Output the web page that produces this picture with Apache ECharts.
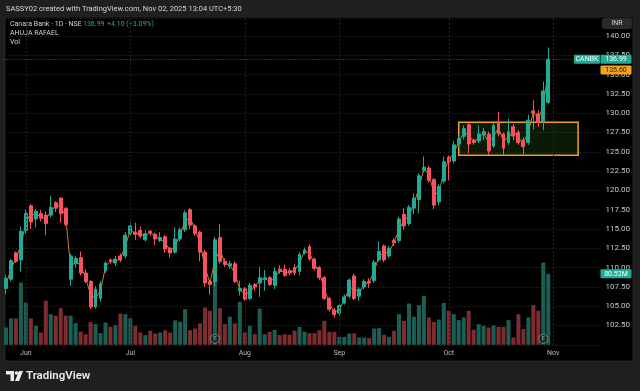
<!DOCTYPE html>
<html><head><meta charset="utf-8">
<script src="https://cdn.jsdelivr.net/npm/echarts@6/dist/echarts.min.js"></script>
<style>html,body{margin:0;padding:0;background:#1f1f1f}#c{width:640px;height:391px}</style>
</head><body><div id="c"></div><script>
const dates = [
'2025-05-27','2025-05-28','2025-05-29','2025-05-30',
'2025-06-02','2025-06-03','2025-06-04','2025-06-05','2025-06-06','2025-06-09','2025-06-10','2025-06-11','2025-06-12','2025-06-13','2025-06-16','2025-06-17','2025-06-18','2025-06-19','2025-06-20','2025-06-23','2025-06-24','2025-06-25','2025-06-26','2025-06-27','2025-06-30',
'2025-07-01','2025-07-02','2025-07-03','2025-07-04','2025-07-07','2025-07-08','2025-07-09','2025-07-10','2025-07-11','2025-07-14','2025-07-15','2025-07-16','2025-07-17','2025-07-18','2025-07-21','2025-07-22','2025-07-23','2025-07-24','2025-07-25','2025-07-28','2025-07-29','2025-07-30','2025-07-31',
'2025-08-01','2025-08-04','2025-08-05','2025-08-06','2025-08-07','2025-08-08','2025-08-11','2025-08-12','2025-08-13','2025-08-14','2025-08-18','2025-08-19','2025-08-20','2025-08-21','2025-08-22','2025-08-25','2025-08-26','2025-08-28','2025-08-29',
'2025-09-01','2025-09-02','2025-09-03','2025-09-04','2025-09-05','2025-09-08','2025-09-09','2025-09-10','2025-09-11','2025-09-12','2025-09-15','2025-09-16','2025-09-17','2025-09-18','2025-09-19','2025-09-22','2025-09-23','2025-09-24','2025-09-25','2025-09-26','2025-09-29','2025-09-30',
'2025-10-01','2025-10-03','2025-10-06','2025-10-07','2025-10-08','2025-10-09','2025-10-10','2025-10-13','2025-10-14','2025-10-15','2025-10-16','2025-10-17','2025-10-20','2025-10-21','2025-10-23','2025-10-24','2025-10-27','2025-10-28','2025-10-29','2025-10-30','2025-10-31',
'2025-11-03','2025-11-04','2025-11-06','2025-11-07','2025-11-10','2025-11-11','2025-11-12','2025-11-13','2025-11-14','2025-11-17'
];
const openP = [107.3,108.5,111.9,111.0,114.8,118.0,116.3,117.0,116.8,116.8,
118.4,119.0,117.7,108.5,110.5,111.3,109.3,108.2,104.9,106.0,
109.6,111.0,110.6,111.5,111.5,114.4,114.6,114.8,113.6,114.7,
114.3,113.5,114.0,112.5,112.0,113.7,114.9,117.5,115.4,114.6,
112.0,108.2,108.2,113.9,110.8,110.2,110.5,107.0,107.3,106.0,
107.8,108.0,108.5,108.7,107.7,109.8,109.8,109.6,110.0,109.5,
111.9,112.7,111.1,110.0,108.7,106.0,104.5,104.1,105.4,106.3,
108.9,106.3,107.5,108.2,108.3,111.0,112.8,111.5,113.5,113.5,
116.9,115.7,117.7,118.8,122.6,122.9,121.4,118.5,121.2,124.3,
123.8,126.0,127.0,128.5,126.5,126.4,127.2,127.3,125.75,128.9,
127.3,126.2,128.25,127.5,126.5,126.2,130.3,129.9,128.9,131.4];
const closeP = [108.6,110.9,110.8,114.7,117.0,115.9,117.3,116.4,115.7,117.8,
117.7,117.0,115.6,111.5,111.2,109.3,108.2,104.9,107.2,107.9,
110.6,110.8,111.1,111.0,114.2,115.4,114.3,114.1,114.4,114.5,
113.7,113.9,112.4,111.9,113.7,114.9,117.1,115.5,114.4,112.0,
108.0,107.8,113.6,110.8,110.4,110.5,108.2,107.3,105.9,107.7,
107.5,108.7,108.7,107.8,109.5,109.5,109.0,109.3,109.3,111.7,
112.3,111.1,109.9,108.7,106.0,104.6,103.9,105.1,106.2,108.4,
106.0,107.2,108.2,108.0,110.7,112.1,111.0,112.5,113.2,116.3,
115.4,117.8,119.0,121.9,123.0,121.3,118.1,120.5,123.7,123.7,
125.9,126.7,128.0,126.0,126.2,127.3,127.6,125.1,128.4,127.3,
125.45,127.6,127.05,126.2,125.65,129.1,130.0,128.8,132.89,136.99];
const lowP = [106.6,108.2,110.6,109.5,114.4,115.0,115.2,116.0,114.2,116.5,
117.2,115.8,115.4,107.6,110.0,109.0,108.0,104.6,104.7,105.6,
109.3,110.5,110.2,110.7,111.2,114.0,113.6,113.8,113.4,114.1,
112.9,113.3,111.9,111.3,111.8,113.4,114.6,115.0,114.1,110.8,
107.5,106.5,107.6,110.5,110.1,109.8,108.0,106.4,105.7,105.8,
107.0,106.2,107.0,107.6,107.2,109.2,108.8,109.0,109.0,109.0,
111.7,110.9,109.6,108.4,105.8,104.3,103.5,103.8,105.2,106.0,
105.8,105.7,107.2,107.4,108.0,110.8,110.7,111.2,112.8,113.2,
114.9,115.4,116.9,117.0,122.3,121.0,117.6,118.1,120.9,121.3,
123.5,125.7,126.6,124.8,125.9,126.1,126.5,124.6,125.5,127.0,
124.6,125.9,126.5,125.9,124.7,125.9,127.9,128.2,127.8,131.2];
const highP = [109.0,111.1,112.1,115.3,117.5,118.2,117.6,117.4,117.3,119.3,
118.6,119.1,117.8,111.8,111.5,112.1,109.8,108.4,107.6,108.3,
110.8,111.2,111.5,111.8,114.6,115.9,115.8,115.3,114.8,114.9,
114.5,114.6,114.2,112.7,115.2,115.2,117.4,117.7,115.6,114.8,
112.3,108.4,114.0,115.6,111.2,110.9,110.8,108.3,107.5,108.0,
108.0,110.1,109.7,108.9,110.0,110.3,110.4,109.9,110.5,112.0,
112.6,113.0,111.3,110.2,108.9,106.2,104.8,105.3,106.5,108.6,
109.2,107.5,108.5,108.6,111.0,113.4,113.0,112.8,113.8,116.6,
117.7,118.1,119.6,122.2,124.4,123.2,121.6,120.8,124.4,124.5,
126.4,127.0,128.4,128.7,126.7,128.4,128.1,127.6,128.7,130.2,
127.5,129.3,128.6,127.8,126.9,129.8,131.7,130.4,134.1,138.5];
const volumeM = [19.6,30,30,70.6,48,30,21.5,14,50,34.8,
33,41.6,33,33,24.6,15,12,25.7,23.4,13.2,
25.3,20.4,22.3,35.5,34.8,30.2,21.5,14,11,15.9,
12.8,14,16.6,14,27.6,26,40.5,16.6,18.5,24.2,
42.3,38.6,73.4,41.6,23.4,32,24.2,48.8,14,21.5,
12,41,12,14.7,17,11,12,11.3,15.9,20.4,
14.7,13.2,13.2,16.6,27.2,14.7,14.7,9,9,12.8,
12.9,8.3,8.3,7.6,18.5,18.9,11.3,9,15.9,34.8,
27.2,46.9,31.8,45,55.6,31,26,28.7,47.6,38.6,
34.8,28,31,38.6,17,23.4,21.5,19.6,22,20.4,
20.4,28,8.3,34.8,17.8,31,45,38.6,93.3,80.52];
const ahujaLine = [107.9,109.7,111.3,112.8,115.9,117.0,116.8,116.7,116.2,117.3,
118.0,118.0,116.6,110.0,110.8,110.3,108.7,106.5,106.0,107.0,
110.1,110.9,110.8,111.2,112.8,114.9,114.4,114.4,114.0,114.6,
114.0,113.7,113.2,112.2,112.8,114.3,116.0,116.5,114.9,113.3,
110.0,108.0,110.9,112.3,110.6,110.3,109.3,107.1,106.6,106.8,
107.6,108.3,108.6,108.2,108.6,109.6,109.4,109.4,109.6,110.6,
112.1,111.9,110.5,109.3,107.3,105.3,104.2,104.6,105.8,107.3,
107.4,106.7,107.8,108.1,109.5,111.5,111.9,112.0,113.3,114.9,
116.1,116.7,118.3,120.3,122.8,122.1,119.7,119.5,122.4,124.0,
124.8,126.3,127.5,127.2,126.3,126.8,127.4,126.2,127.0,128.1,
126.4,126.9,127.6,126.8,126.1,127.6,130.1,129.3,130.9,135.6];
const monthStarts = ['2025-06-02','2025-07-01','2025-08-01','2025-09-01','2025-10-01','2025-11-03'];
const monthLabels = ['Jun','Jul','Aug','Sep','Oct','Nov'];
const earningsDates = ['2025-07-24','2025-10-30'];
const boxFrom = '2025-10-06', boxTo = '2025-11-11';
const boxTop = 128.82, boxBottom = 124.55;
const lastPrice = 136.99, lineLast = 135.60, lastVol = 80.52;

const FONT = "Roboto, 'DejaVu Sans', sans-serif";
const UP = '#22ab94', DOWN = '#f7525f';
const chart = echarts.init(document.getElementById('c'), null, {renderer:'canvas'});

const candles = openP.map((o,i)=>[o, closeP[i], lowP[i], highP[i]]);
const volData = volumeM.map((v,i)=>({value:v, itemStyle:{color: closeP[i]>=openP[i] ? '#1c5e55' : '#7d2d30'}}));

const headerGraphics = [
  {id:'panel', type:'rect', z:-10, shape:{x:5,y:17,width:628,height:344}, style:{fill:'#000', stroke:'#262626', lineWidth:1}},
  {id:'title', type:'text', x:6, y:9, style:{text:'SASSY02 created with TradingView.com, Nov 02, 2025 13:04 UTC+5:30', fill:'#d6d6d6', font:'7.5px '+FONT, verticalAlign:'middle'}},
  {id:'l1', type:'text', x:10, y:24.5, style:{text:'Canara Bank · 1D · NSE', fill:'#d1d4dc', font:'7px '+FONT, verticalAlign:'middle'}},
  {id:'l1b', type:'text', x:83, y:24.5, style:{text:'136.99', fill:UP, font:'7px '+FONT, verticalAlign:'middle'}},
  {id:'l1c', type:'text', x:107, y:24.5, style:{text:'+4.10 (+3.09%)', fill:UP, font:'7px '+FONT, verticalAlign:'middle'}},
  {id:'l2', type:'text', x:10, y:33.5, style:{text:'AHUJA RAFAEL', fill:'#d1d4dc', font:'7px '+FONT, verticalAlign:'middle'}},
  {id:'l3', type:'text', x:10, y:42.5, style:{text:'Vol', fill:'#d1d4dc', font:'7px '+FONT, verticalAlign:'middle'}},
  {id:'inrbox', type:'rect', shape:{x:602,y:18,width:30,height:11,r:2}, style:{fill:'#2a2a2a'}},
  {id:'inr', type:'text', x:617, y:23.5, style:{text:'INR', fill:'#d1d4dc', font:'7px '+FONT, align:'center', verticalAlign:'middle'}},
  {id:'logo1', type:'rect', shape:{x:6,y:371,width:8,height:3.5}, style:{fill:'#ececec'}},
  {id:'logo2', type:'rect', shape:{x:10.5,y:371,width:3.5,height:10}, style:{fill:'#ececec'}},
  {id:'logo3', type:'circle', shape:{cx:16.5,cy:373,r:1.8}, style:{fill:'#ececec'}},
  {id:'logo4', type:'polygon', shape:{points:[[19,371],[23,371],[19,381],[15,381]]}, style:{fill:'#ececec'}},
  {id:'logotext', type:'text', x:26, y:376, style:{text:'TradingView', fill:'#ececec', font:'600 11.5px '+FONT, verticalAlign:'middle'}}
];

chart.setOption({
  animation:false,
  backgroundColor:'#1f1f1f',
  grid:[
    {left:3.5, top:18, width:597, height:326.8, outerBoundsMode:'none'},
    {left:3.5, top:244.8, width:597, height:100, outerBoundsMode:'none'}
  ],
  xAxis:[
    {type:'category', gridIndex:0, data:dates, boundaryGap:true,
     axisLine:{show:false}, axisTick:{show:false}, splitLine:{show:false},
     axisLabel:{interval:(i,v)=>monthStarts.indexOf(v)>=0, formatter:v=>monthLabels[monthStarts.indexOf(v)]||'',
       color:'#b8bbc2', fontSize:7, fontFamily:FONT, margin:5}},
    {type:'category', gridIndex:1, data:dates, boundaryGap:true, show:false}
  ],
  yAxis:[
    {type:'value', gridIndex:0, position:'right', min:100, max:142.33, interval:2.5, scale:true,
     axisLine:{show:false}, axisTick:{show:false},
     axisLabel:{formatter:v=>v.toFixed(2), color:'#c3c6cc', fontSize:8, fontFamily:FONT, margin:5, showMinLabel:false, showMaxLabel:false},
     splitLine:{lineStyle:{color:'#1f1f1f', type:[2,2], width:1}}},
    {type:'value', gridIndex:1, min:0, max:113.4, show:false}
  ],
  series:[
    {type:'bar', name:'Vol', xAxisIndex:1, yAxisIndex:1, data:volData, barWidth:4, z:1, silent:true},
    {type:'line', name:'AHUJA RAFAEL', xAxisIndex:0, yAxisIndex:0, data:ahujaLine, symbol:'none', z:2,
     lineStyle:{color:'#c9801a', width:1}, silent:true},
    {type:'candlestick', name:'CANBK', xAxisIndex:0, yAxisIndex:0, data:candles, barWidth:3.4, z:3,
     itemStyle:{color:UP, color0:DOWN, borderColor:UP, borderColor0:DOWN, borderWidth:1},
     markArea:{silent:true, z:1, itemStyle:{color:'rgba(60,140,40,0.18)', borderColor:'#f0a020', borderWidth:1.5},
       data:[[{xAxis:boxFrom, yAxis:boxTop},{xAxis:boxTo, yAxis:boxBottom}]]},
     markLine:{silent:true, symbol:'none', animation:false, label:{show:false},
       data:[
         ...monthStarts.map(d=>({xAxis:d, lineStyle:{color:'#262626', type:[2,2], width:1}})),
         {yAxis:lastPrice, lineStyle:{color:UP, type:[1,2], width:1, opacity:0.7}}
       ]}},
    {type:'scatter', xAxisIndex:1, yAxisIndex:1, data:earningsDates.map(d=>[d,0]), symbol:'circle', symbolSize:9,
     symbolOffset:[0,-6], z:5, silent:true,
     itemStyle:{color:'#0e2a26', borderColor:'#8d8d8d', borderWidth:1},
     label:{show:true, formatter:'E', position:'inside', color:'#bdbdbd', fontSize:6, fontFamily:FONT}}
  ],
  graphic: headerGraphics
});

const yP = chart.convertToPixel({yAxisIndex:0}, lastPrice);
const yL = chart.convertToPixel({yAxisIndex:0}, lineLast);
const yV = chart.convertToPixel({yAxisIndex:1}, lastVol);
const tag = (id, x, y, w, fill, text, color) => [
  {id:id+'r', type:'rect', z:20, shape:{x:x, y:y-4.5, width:w, height:9, r:1}, style:{fill:fill}},
  {id:id+'t', type:'text', z:21, x:x+w/2, y:y, style:{text:text, fill:color, font:'7px '+FONT, align:'center', verticalAlign:'middle'}}
];
chart.setOption({graphic: headerGraphics.concat(
  tag('sym', 574, yP, 26, UP, 'CANBK', '#ffffff'),
  tag('lp', 600.5, yP, 31, UP, lastPrice.toFixed(2), '#ffffff'),
  tag('ll', 600.5, yL, 31, '#f7a21b', lineLast.toFixed(2), '#1a1a1a'),
  tag('lv', 600.5, yV, 31, UP, lastVol.toFixed(2)+'M', '#ffffff')
)});
</script></body></html>
